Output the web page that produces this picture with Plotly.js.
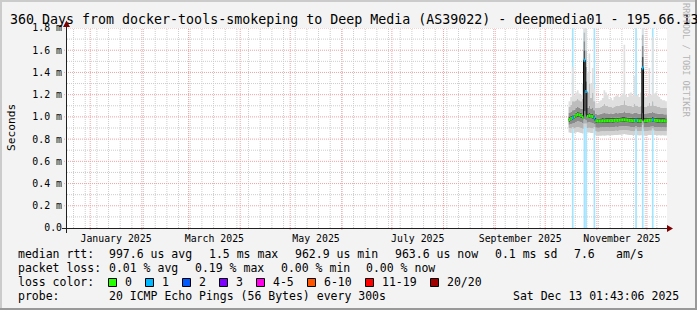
<!DOCTYPE html>
<html><head><meta charset="utf-8">
<script src="https://cdn.plot.ly/plotly-3.0.1.min.js"></script>
<style>html,body{margin:0;padding:0;background:#f3f3f3;}#chart{width:697px;height:310px;}</style>
</head><body><div id="chart"></div>
<script>
// ---------------- data ----------------
const days = ['2025-10-15','2025-10-16','2025-10-17','2025-10-18','2025-10-19','2025-10-20','2025-10-21','2025-10-22','2025-10-23','2025-10-24',
'2025-10-25','2025-10-26','2025-10-27','2025-10-28','2025-10-29','2025-10-30','2025-10-31',
'2025-11-01','2025-11-02','2025-11-03','2025-11-04','2025-11-05','2025-11-06','2025-11-07','2025-11-08','2025-11-09','2025-11-10',
'2025-11-11','2025-11-12','2025-11-13','2025-11-14','2025-11-15','2025-11-16','2025-11-17','2025-11-18','2025-11-19','2025-11-20',
'2025-11-21','2025-11-22','2025-11-23','2025-11-24','2025-11-25','2025-11-26','2025-11-27','2025-11-28','2025-11-29','2025-11-30',
'2025-12-01','2025-12-02','2025-12-03','2025-12-04','2025-12-05','2025-12-06','2025-12-07','2025-12-08','2025-12-09','2025-12-10',
'2025-12-11','2025-12-12'];
// lost pings out of 20 per day
const lossCount = [0,0,1,0,0,0,0,0,0,1, 1,0,0,0,0,1,0, 0,0,0,0,0,0,0,0,0,0, 0,0,0,0,0,0,0,0,0,0, 0,0,0,1,0,0,0,1,0,0, 0,0,0,1,0,0,0,0,0,0, 0,0];
// median rtt (ms)
const median = [0.975,0.985,0.992,1.000,1.015,1.022,1.018,1.012,0.998,1.510, 1.228,1.005,1.010,1.006,1.002,0.990,0.965,
0.963,0.963,0.964,0.965,0.964,0.966,0.966,0.965,0.967,0.966, 0.968,0.969,0.968,0.970,0.971,0.973,0.974,0.972,0.970,0.968,
0.967,0.965,0.967,0.969,0.966,0.964,0.965,1.440,0.964,0.966, 0.967,0.969,0.970,0.973,0.970,0.968,0.966,0.965,0.964,0.965, 0.964,0.964];
// smoke: sorted ping distribution (ms), from lowest to highest
const pingMin = [0.86,0.855,0.89,0.855,0.86,0.865,0.86,0.855,0.85,0.91, 0.91,0.86,0.86,0.855,0.855,0.89,0.835,
0.83,0.83,0.83,0.832,0.83,0.833,0.835,0.832,0.835,0.834, 0.836,0.838,0.836,0.84,0.84,0.842,0.845,0.842,0.84,0.838,
0.836,0.834,0.836,0.88,0.835,0.833,0.834,0.89,0.833,0.835, 0.836,0.838,0.838,0.88,0.838,0.836,0.835,0.834,0.833,0.834, 0.833,0.833];
const pingLo3 = [0.90,0.895,0.91,0.895,0.905,0.91,0.905,0.90,0.893,0.94, 0.94,0.90,0.902,0.897,0.895,0.91,0.87,
0.866,0.866,0.868,0.87,0.868,0.87,0.872,0.87,0.872,0.87, 0.873,0.875,0.873,0.877,0.878,0.88,0.882,0.88,0.877,0.875,
0.873,0.87,0.873,0.895,0.872,0.87,0.871,0.93,0.87,0.872, 0.873,0.875,0.876,0.897,0.875,0.873,0.872,0.871,0.87,0.871, 0.87,0.87];
const pingLo2 = [0.93,0.935,0.94,0.945,0.955,0.96,0.957,0.952,0.942,0.98, 0.97,0.948,0.952,0.948,0.945,0.935,0.905,
0.902,0.902,0.904,0.906,0.904,0.907,0.907,0.905,0.908,0.906, 0.909,0.911,0.909,0.913,0.914,0.916,0.918,0.916,0.913,0.911,
0.909,0.906,0.909,0.917,0.907,0.905,0.906,0.97,0.905,0.907, 0.908,0.91,0.911,0.918,0.91,0.908,0.907,0.906,0.905,0.906, 0.905,0.905];
const pingLo1 = [0.955,0.965,0.972,0.98,0.993,1.0,0.996,0.99,0.977,1.05, 1.02,0.985,0.99,0.986,0.982,0.97,0.945,
0.943,0.943,0.944,0.945,0.944,0.946,0.946,0.945,0.947,0.946, 0.948,0.949,0.948,0.95,0.951,0.953,0.954,0.952,0.95,0.948,
0.947,0.945,0.947,0.95,0.946,0.944,0.945,1.03,0.944,0.946, 0.947,0.949,0.95,0.953,0.95,0.948,0.946,0.945,0.944,0.945, 0.944,0.944];
const pingHi1 = [0.998,1.008,1.015,1.022,1.038,1.045,1.041,1.035,1.022,1.60, 1.32,1.03,1.035,1.03,1.026,1.015,0.988,
0.986,0.986,0.988,0.99,0.988,0.99,0.99,0.989,0.992,0.99, 0.993,0.994,0.993,0.995,0.996,0.998,1.0,0.997,0.995,0.993,
0.992,0.99,0.993,0.995,0.991,0.989,0.99,1.54,0.989,0.991, 0.992,0.994,0.995,0.998,0.995,0.993,0.991,0.99,0.989,0.99, 0.989,0.988];
const pingHi2 = [1.035,1.045,1.06,1.065,1.08,1.09,1.085,1.075,1.07,1.68, 1.45,1.08,1.10,1.075,1.08,1.06,1.025,
1.022,1.024,1.028,1.032,1.036,1.032,1.032,1.028,1.032,1.028, 1.032,1.036,1.032,1.036,1.04,1.04,1.05,1.04,1.036,1.036,
1.032,1.03,1.04,1.036,1.032,1.028,1.032,1.64,1.028,1.03, 1.032,1.04,1.036,1.045,1.036,1.032,1.03,1.028,1.026,1.026, 1.024,1.024];
const pingHi3 = [1.09,1.11,1.14,1.14,1.15,1.16,1.15,1.14,1.16,1.76, 1.60,1.22,1.30,1.17,1.22,1.14,1.08,
1.08,1.085,1.09,1.10,1.12,1.10,1.10,1.09,1.09,1.085, 1.09,1.10,1.10,1.10,1.11,1.11,1.15,1.11,1.10,1.10,
1.10,1.09,1.12,1.10,1.10,1.09,1.10,1.74,1.09,1.09, 1.10,1.13,1.10,1.14,1.10,1.10,1.09,1.09,1.085,1.085, 1.08,1.08];
const pingMax = [1.14,1.18,1.45,1.19,1.22,1.24,1.21,1.20,1.30,1.85, 1.80,1.40,1.57,1.30,1.44,1.25,1.13,
1.12,1.14,1.15,1.17,1.24,1.22,1.20,1.16,1.17,1.15, 1.18,1.19,1.20,1.18,1.19,1.21,1.65,1.20,1.18,1.21,
1.22,1.19,1.37,1.19,1.20,1.18,1.22,1.85,1.19,1.18, 1.19,1.44,1.20,1.72,1.21,1.22,1.19,1.18,1.16,1.15, 1.15,1.14];

const lossLabels = ['0','1','2','3','4-5','6-10','11-19','20/20'];
const lossUpper  = [0,1,2,3,5,10,19,20];
const lossColors = ['#26ff00','#00b8ff','#0059ff','#7e00ff','#ff00ea','#ff5500','#ff0000','#a10000'];

const monthTickDates = ['2025-01-16 12:00','2025-03-16 12:00','2025-05-16 12:00','2025-07-16 12:00','2025-09-16','2025-11-16'];
const monthTickText  = ['January 2025','March 2025','May 2025','July 2025','September 2025','November 2025'];
const yTickVals = [0,0.2,0.4,0.6,0.8,1.0,1.2,1.4,1.6,1.8];
const yTickText = ['0.0','0.2 m','0.4 m','0.6 m','0.8 m','1.0 m','1.2 m','1.4 m','1.6 m','1.8 m'];

const titleText = '360 Days from docker-tools-smokeping to Deep Media (AS39022) - deepmedia01 - 195.66.13';
const rttItems  = ['median rtt:','997.6 us avg','1.5 ms max','962.9 us min','963.6 us now','0.1 ms sd','7.6','am/s'];
const lossItems = ['packet loss:','0.01 % avg','0.19 % max','0.00 % min','0.00 % now'];
const probeItems = ['probe:','20 ICMP Echo Pings (56 Bytes) every 300s','Sat Dec 13 01:43:06 2025'];
const X_START = '2024-12-18 01:43:06', X_END = '2025-12-13 01:43:06';
const Y_MAX = 1.8;

// ---------------- build ----------------
const DAY = 86400000;
const toMs = s => Date.parse(s.replace(' ','T') + (s.length<=10 ? 'T00:00:00Z' : 'Z'));
const fmt = t => new Date(t).toISOString().replace('T',' ').slice(0,19);
const nextDay = s => new Date(Date.parse(s + 'T00:00:00Z') + DAY).toISOString().slice(0,10);
const xStep = days.concat([nextDay(days[days.length-1])]);
const stepY = a => a.concat([a[a.length-1]]);
const bucket = c => lossUpper.findIndex(u => c <= u);
function mix(hex, f){ const n=parseInt(hex.slice(1),16); const r=n>>16,g=(n>>8)&255,b=n&255;
  const m=v=>Math.round(255-(255-v)*f); return `rgb(${m(r)},${m(g)},${m(b)})`; }

const traces = [];
// loss background bars
const lossIdx = days.map((d,i)=>i).filter(i=>lossCount[i]>0);
traces.push({type:'bar', x:lossIdx.map(i=>days[i]), y:lossIdx.map(()=>Y_MAX), base:0, width:DAY, offset:0,
  marker:{color:lossIdx.map(i=>mix(lossColors[bucket(lossCount[i])],0.36)), line:{width:0}}, hoverinfo:'skip'});
// smoke bands
const edges = [pingMin,pingLo3,pingLo2,pingLo1,median,pingHi1,pingHi2,pingHi3,pingMax];
const bandColors = ['#d2d2d2','#b3b3b3','#8a8a8a','#505050','#505050','#8e8e8e','#bdbdbd','#dfdfdf'];
edges.forEach((e,k)=>{
  const t = {type:'scatter', mode:'lines', x:xStep, y:stepY(e), line:{shape:'hv', width:0, color:'rgba(0,0,0,0)'}, hoverinfo:'skip'};
  if(k>0){ t.fill='tonexty'; t.fillcolor=bandColors[k-1]; }
  traces.push(t);
});
// black median line
traces.push({type:'scatter', mode:'lines', x:xStep, y:stepY(median), line:{shape:'hv', width:1, color:'#000000'}, hoverinfo:'skip'});
// loss-coloured median segments (one per day, horizontal only)
const usedBuckets = [...new Set(lossCount.map(bucket))];
usedBuckets.forEach(b=>{
  const xs=[], ys=[];
  days.forEach((d,j)=>{
    if(bucket(lossCount[j])===b){
      if(xs.length){ xs.push(null); ys.push(null); }
      xs.push(d); ys.push(median[j]); xs.push(xStep[j+1]); ys.push(median[j]);
    }
  });
  traces.push({type:'scatter', mode:'lines', x:xs, y:ys, connectgaps:false, line:{width:3, color:lossColors[b]}, hoverinfo:'skip'});
});

// ---------------- layout ----------------
const L=67, T=28, W=600, H=200;
const px = x => (x-L)/W, py = y => (T+H-y)/H;
const FONT = 'DejaVu Sans Mono';
const ann = (text,x,y,size,extra) => Object.assign({text, xref:'paper', yref:'paper', x:px(x), y:py(y), xanchor:'left', yanchor:'middle',
  showarrow:false, font:{family:FONT, size:size, color:'#000'}}, extra||{});
const annotations = [];
annotations.push(ann(titleText, 8, 19, 13.3));
annotations.push(ann('Seconds', 11, 128, 11.2, {xanchor:'center', textangle:-90}));
annotations.push(ann('RRDTOOL / TOBI OETIKER', 686, 60, 8.6, {xanchor:'center', textangle:90, font:{family:FONT,size:8.6,color:'#b4b4b4'}}));
const rttX=[16,107,207,293,393,493,572,614];
rttItems.forEach((t,i)=>annotations.push(ann(t, rttX[i], 254, 11.5)));
const lossX=[16,107,193,279,364];
lossItems.forEach((t,i)=>annotations.push(ann(t, lossX[i], 268, 11.5)));
annotations.push(ann('loss color:', 16, 282, 11.5));
const swX=[108,145,182,219,256,307,365,430];
const shapes=[];
lossLabels.forEach((t,i)=>{
  annotations.push(ann(t, swX[i]+15, 282, 11.5));
  shapes.push({type:'rect', xref:'paper', yref:'paper', x0:px(swX[i]+0.5), x1:px(swX[i]+8.5), y0:py(286.5), y1:py(278.5),
    fillcolor:lossColors[i], line:{color:'#000', width:1}});
});
annotations.push(ann(probeItems[0], 16, 296, 11.5));
annotations.push(ann(probeItems[1], 107, 296, 11.5));
annotations.push(ann(probeItems[2], 681, 296, 11.5, {xanchor:'right'}));

// grid (rrdtool style dotted): weekly minor + monthly major verticals, 0.1 minor / 0.2 major horizontals
const GRAY='#cdcdcd', RED='#f3a3a3', DASH='1px,1px';
const t0 = toMs(X_START), t1 = toMs(X_END);
for(let t=toMs('2024-12-22'); t<t1; t+=7*DAY){ if(t>t0) shapes.push({type:'line', layer:'below', xref:'x', yref:'paper', x0:fmt(t), x1:fmt(t), y0:0, y1:1, line:{color:GRAY,width:1,dash:DASH}}); }
for(let i=0;i<24;i++){ const d=new Date(Date.UTC(2024,11+i,1)).getTime(); if(d>t0 && d<t1)
  shapes.push({type:'line', layer:'below', xref:'x', yref:'paper', x0:fmt(d), x1:fmt(d), y0:py(230), y1:1, line:{color:RED,width:1,dash:DASH}}); }
for(let k=1;k<=18;k++){ const v=k/10; if(k%2) shapes.push({type:'line', layer:'below', xref:'paper', yref:'y', x0:0, x1:1, y0:v, y1:v, line:{color:GRAY,width:1,dash:DASH}}); }
for(let k=2;k<=18;k+=2){ const v=k/10; shapes.push({type:'line', layer:'below', xref:'paper', yref:'y', x0:px(64), x1:1, y0:v, y1:v, line:{color:RED,width:1,dash:DASH}}); }

// frame (3D border) and axes with arrows
const rect=(x0,y0,x1,y1,c)=>({type:'rect', xref:'paper', yref:'paper', x0:px(x0), x1:px(x1), y0:py(y0), y1:py(y1), fillcolor:c, line:{width:0}, layer:'below'});
shapes.push(rect(0,0,697,2,'#cbcbcb'), rect(0,0,2,310,'#cbcbcb'), rect(695,0,697,310,'#999999'), rect(0,308,697,310,'#999999'));
shapes.push({type:'line', xref:'paper', yref:'paper', x0:px(62), x1:px(670), y0:py(228.5), y1:py(228.5), line:{color:'#202020', width:1}});
shapes.push({type:'line', xref:'paper', yref:'paper', x0:px(66.5), x1:px(66.5), y0:py(233), y1:py(24), line:{color:'#202020', width:1}});
shapes.push({type:'path', xref:'paper', yref:'paper', fillcolor:'#7f0000', line:{width:0},
  path:`M ${px(667)},${py(225)} L ${px(673)},${py(228.5)} L ${px(667)},${py(232)} Z`});
shapes.push({type:'path', xref:'paper', yref:'paper', fillcolor:'#7f0000', line:{width:0},
  path:`M ${px(63)},${py(27)} L ${px(66.5)},${py(20.5)} L ${px(70)},${py(27)} Z`});

const layout = {
  width:697, height:310, margin:{l:L, r:697-L-W, t:T, b:310-T-H, pad:0},
  paper_bgcolor:'#f3f3f3', plot_bgcolor:'#ffffff', showlegend:false, barmode:'overlay',
  font:{family:FONT, color:'#000'},
  xaxis:{type:'date', range:[X_START,X_END], tickmode:'array', tickvals:monthTickDates, ticktext:monthTickText,
    showgrid:false, zeroline:false, showline:false, ticks:'', ticklabelstandoff:3, tickfont:{family:FONT,size:9.85,color:'#000'}, fixedrange:true},
  yaxis:{range:[0,Y_MAX], tickmode:'array', tickvals:yTickVals, ticktext:yTickText, showgrid:false,
    ticks:'', ticklabelstandoff:4, zeroline:false, showline:false, tickfont:{family:FONT,size:9.85,color:'#000'}, fixedrange:true},
  annotations, shapes
};
Plotly.newPlot('chart', traces, layout, {staticPlot:true, displayModeBar:false});
</script></body></html>
